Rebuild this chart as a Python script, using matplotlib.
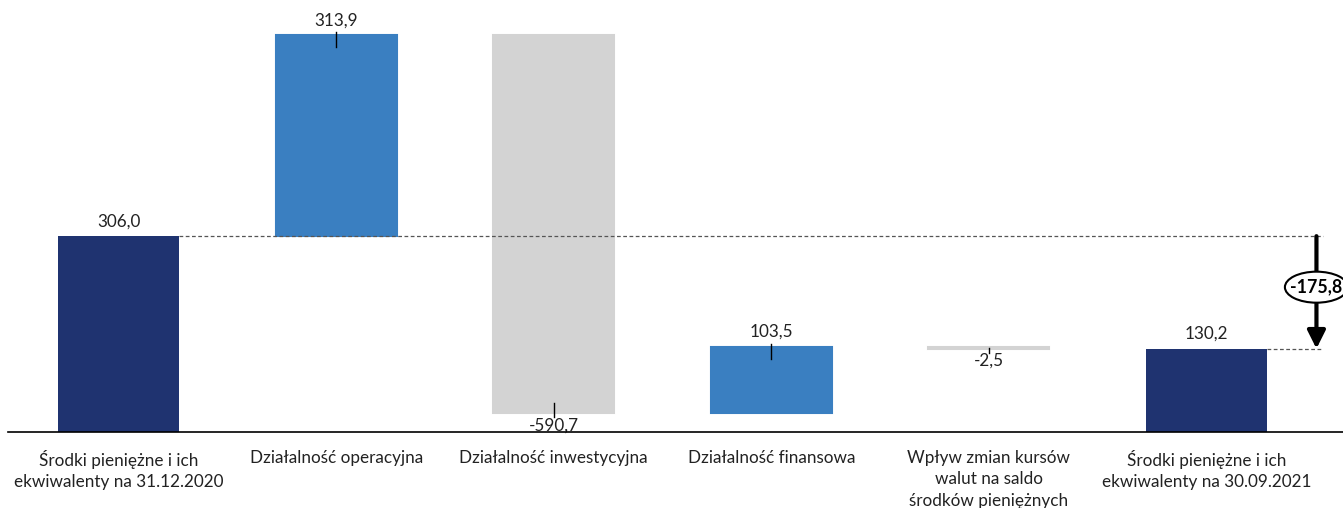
import matplotlib
matplotlib.use("Agg")
import matplotlib.pyplot as plt
from matplotlib.patches import Ellipse, FancyArrowPatch

plt.rcParams['font.family'] = ['Lato', 'DejaVu Sans']

# waterfall data (mln PLN)
categories = ["Środki pieniężne i ich\nekwiwalenty na 31.12.2020",
              "Działalność operacyjna",
              "Działalność inwestycyjna",
              "Działalność finansowa",
              "Wpływ zmian kursów\nwalut na saldo\nśrodków pieniężnych",
              "Środki pieniężne i ich\nekwiwalenty na 30.09.2021"]
values = [306.0, 313.9, -590.7, 103.5, -2.5, 130.2]
kinds = ["total", "delta", "delta", "delta", "delta", "total"]
change_label = "-175,8"

navy = "#1F3370"
blue = "#3A7FC1"
grey = "#D3D3D3"
txt = "#222222"
fs = 12.3

fig = plt.figure(figsize=(13.43, 5.08), dpi=100)
ax = fig.add_axes([0, 0, 1, 1])
ax.set_xlim(-0.545, 5.627)
ax.set_ylim(-118.75, 675)
ax.axis("off")

px = 794 / 508  # data units per pixel (vertical)
w = 0.556
running = 0
for i, (v, k) in enumerate(zip(values, kinds)):
    lab = f"{v:.1f}".replace(".", ",")
    if k == "total":
        ax.bar(i, v, width=w, color=navy, zorder=2)
        running = v
        ax.text(i, v + 7 * px, lab, ha="center", va="bottom", fontsize=fs, color=txt)
    else:
        start = running
        end = running + v
        col = blue if v > 0 else grey
        ax.bar(i, end - start, bottom=start, width=w, color=col, edgecolor=col, lw=1.5, zorder=2)
        if v > 0:
            ax.plot([i, i], [end + 3 * px, end - 12 * px], color="black", lw=1, zorder=3)
            ax.text(i, end + 7 * px, lab, ha="center", va="bottom", fontsize=fs, color=txt)
        else:
            h = min(10, abs(v) / px / 2)
            ax.plot([i, i], [end + h * px, end - 4 * px], color="black", lw=1, zorder=3)
            ax.text(i, end - 4 * px, lab, ha="center", va="top", fontsize=fs, color=txt)
        running = end

# baseline
ax.plot([-0.508, 5.627], [0, 0], color="black", lw=1.2, zorder=4)

# category labels
for i, c in enumerate(categories):
    ax.text(i, -18 * px, c, ha="center", va="top", fontsize=fs, color=txt,
            linespacing=1.42)

# total change annotation
xa = 5.505
ax.plot([0 + w / 2, xa + 0.03], [values[0], values[0]], ls=(0, (3, 2)), color="#555555", lw=0.9)
ax.plot([5 + w / 2, xa + 0.03], [values[-1], values[-1]], ls=(0, (3, 2)), color="#555555", lw=0.9)
arr = FancyArrowPatch((xa, values[0]), (xa, values[-1]),
                      arrowstyle="-|>,head_width=0.45,head_length=0.9",
                      mutation_scale=12, color="black", lw=3, shrinkA=0, shrinkB=0, zorder=4)
ax.add_patch(arr)
ymid = values[0] - 51 * px
ax.add_patch(Ellipse((xa, ymid), 0.29, 31 * px, facecolor="white", edgecolor="black", lw=1.5, zorder=5))
ax.text(xa, ymid, change_label, ha="center", va="center", fontsize=fs + 0.5, fontweight="bold", zorder=6)

fig.savefig("out.png", dpi=100)
